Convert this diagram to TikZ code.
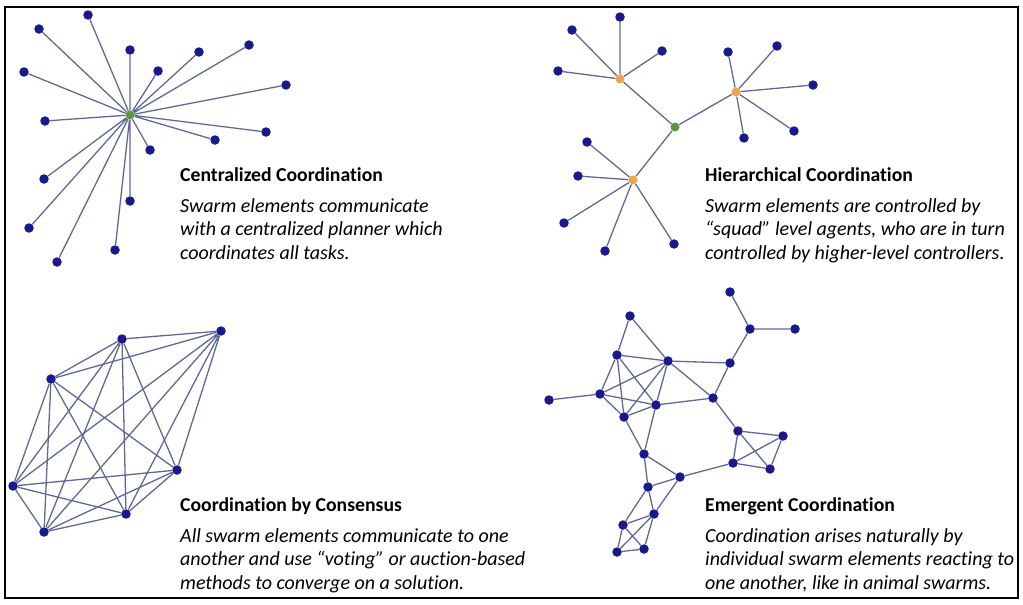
\documentclass[tikz,border=0pt]{standalone}
\usepackage{fontspec}
\setmainfont{Carlito}[Ligatures=NoCommon]
\usetikzlibrary{backgrounds}

\definecolor{dotblue}{RGB}{25,25,140}
\definecolor{linkgray}{RGB}{95,105,150}
\definecolor{hubgreen}{RGB}{95,150,60}
\definecolor{squadorange}{RGB}{240,165,70}

\tikzset{
  agent/.style={circle,fill=dotblue,inner sep=0pt,minimum size=9.5pt},
  hub/.style={circle,fill=hubgreen,inner sep=0pt,minimum size=9pt},
  squad/.style={circle,fill=squadorange,inner sep=0pt,minimum size=9pt},
  link/.style={draw=linkgray,line width=1.3pt},
  heading/.style={anchor=base west,inner sep=0pt,font=\bfseries\fontsize{19.7}{23.5}\selectfont},
  blurb/.style={anchor=north west,inner sep=0pt,align=left,font=\itshape\fontsize{20}{23.5}\selectfont}
}

\begin{document}
\begin{tikzpicture}[x=1pt,y=-1pt]
    \useasboundingbox (0,0) rectangle (1023,605);
    \draw[line width=1.5pt] (5,7) rectangle (1018,598);

    % Centralized coordination
    \node[hub] (c0) at (130,115) {};
    \node[agent] (c1) at (88,15) {};
    \node[agent] (c2) at (39,29) {};
    \node[agent] (c3) at (130,50) {};
    \node[agent] (c4) at (199,52) {};
    \node[agent] (c5) at (249,45) {};
    \node[agent] (c6) at (158,71) {};
    \node[agent] (c7) at (24,72) {};
    \node[agent] (c8) at (286,85) {};
    \node[agent] (c9) at (45,121) {};
    \node[agent] (c10) at (266,132) {};
    \node[agent] (c11) at (215,140) {};
    \node[agent] (c12) at (150,150) {};
    \node[agent] (c13) at (44,179) {};
    \node[agent] (c14) at (130,201) {};
    \node[agent] (c15) at (29,228) {};
    \node[agent] (c16) at (115,250) {};
    \node[agent] (c17) at (57,262) {};
    \begin{scope}[on background layer]
        \draw[link] (c0) -- (c1) (c0) -- (c2) (c0) -- (c3) (c0) -- (c4)
            (c0) -- (c5) (c0) -- (c6) (c0) -- (c7) (c0) -- (c8) (c0) -- (c9)
            (c0) -- (c10) (c0) -- (c11) (c0) -- (c12) (c0) -- (c13)
            (c0) -- (c14) (c0) -- (c15) (c0) -- (c16) (c0) -- (c17);
    \end{scope}
    \node[heading] (ctitle) at (180,181) {Centralized Coordination};
    \node[blurb] (ctext) at (180,198) {Swarm elements communicate\\with a centralized planner which\\coordinates all tasks.};

    % Hierarchical coordination
    \node[hub] (h0) at (675,127) {};
    \node[squad] (ha) at (620,79) {};
    \node[squad] (hb) at (736,92) {};
    \node[squad] (hc) at (633,180) {};
    \node[agent] (ha1) at (620,17) {};
    \node[agent] (ha2) at (572,30) {};
    \node[agent] (ha3) at (662,51) {};
    \node[agent] (ha4) at (558,71) {};
    \node[agent] (hb1) at (728,52) {};
    \node[agent] (hb2) at (777,46) {};
    \node[agent] (hb3) at (813,85) {};
    \node[agent] (hb4) at (794,131) {};
    \node[agent] (hb5) at (744,138) {};
    \node[agent] (hc1) at (587,142) {};
    \node[agent] (hc2) at (578,176) {};
    \node[agent] (hc3) at (564,223) {};
    \node[agent] (hc4) at (605,251) {};
    \node[agent] (hc5) at (674,244) {};
    \begin{scope}[on background layer]
        \draw[link] (h0) -- (ha) (h0) -- (hb) (h0) -- (hc);
        \draw[link] (ha) -- (ha1) (ha) -- (ha2) (ha) -- (ha3) (ha) -- (ha4);
        \draw[link] (hb) -- (hb1) (hb) -- (hb2) (hb) -- (hb3) (hb) -- (hb4) (hb) -- (hb5);
        \draw[link] (hc) -- (hc1) (hc) -- (hc2) (hc) -- (hc3) (hc) -- (hc4) (hc) -- (hc5);
    \end{scope}
    \node[heading] (htitle) at (705,181) {Hierarchical Coordination};
    \node[blurb] (htext) at (705,198) {Swarm elements are controlled by\\``squad'' level agents, who are in turn\\controlled by higher-level controllers.};

    % Coordination by consensus
    \node[agent] (k1) at (122,339) {};
    \node[agent] (k2) at (221,331) {};
    \node[agent] (k3) at (51,379) {};
    \node[agent] (k4) at (13,486) {};
    \node[agent] (k5) at (177,470) {};
    \node[agent] (k6) at (126,514) {};
    \node[agent] (k7) at (44,532) {};
    \begin{scope}[on background layer]
        \draw[link] (k1) -- (k2) (k1) -- (k3) (k1) -- (k4) (k1) -- (k5) (k1) -- (k6) (k1) -- (k7);
        \draw[link] (k2) -- (k3) (k2) -- (k4) (k2) -- (k5) (k2) -- (k6) (k2) -- (k7);
        \draw[link] (k3) -- (k4) (k3) -- (k5) (k3) -- (k6) (k3) -- (k7);
        \draw[link] (k4) -- (k5) (k4) -- (k6) (k4) -- (k7);
        \draw[link] (k5) -- (k6) (k5) -- (k7);
        \draw[link] (k6) -- (k7);
    \end{scope}
    \node[heading] (ktitle) at (180,511) {Coordination by Consensus};
    \node[blurb] (ktext) at (180,528) {All swarm elements communicate to one\\another and use ``voting'' or auction-based\\methods to converge on a solution.};

    % Emergent coordination
    \node[agent] (e1) at (730,292) {};
    \node[agent] (e2) at (750,329) {};
    \node[agent] (e3) at (795,329) {};
    \node[agent] (e4) at (630,316) {};
    \node[agent] (e5) at (617,355) {};
    \node[agent] (e6) at (668,361) {};
    \node[agent] (e7) at (730,363) {};
    \node[agent] (e8) at (549,400) {};
    \node[agent] (e9) at (600,394) {};
    \node[agent] (e10) at (656,405) {};
    \node[agent] (e11) at (713,398) {};
    \node[agent] (e12) at (624,417) {};
    \node[agent] (e13) at (738,431) {};
    \node[agent] (e14) at (783,436) {};
    \node[agent] (e15) at (644,454) {};
    \node[agent] (e16) at (733,463) {};
    \node[agent] (e17) at (770,469) {};
    \node[agent] (e18) at (680,477) {};
    \node[agent] (e19) at (648,487) {};
    \node[agent] (e20) at (654,514) {};
    \node[agent] (e21) at (623,525) {};
    \node[agent] (e22) at (617,552) {};
    \node[agent] (e23) at (644,549) {};
    \begin{scope}[on background layer]
        \draw[link] (e1) -- (e2) (e2) -- (e3) (e2) -- (e7) (e7) -- (e6) (e7) -- (e11);
        \draw[link] (e4) -- (e5) (e4) -- (e6) (e8) -- (e9);
        \draw[link] (e5) -- (e6) (e5) -- (e9) (e5) -- (e10) (e5) -- (e12)
            (e6) -- (e9) (e6) -- (e10) (e6) -- (e12)
            (e9) -- (e10) (e9) -- (e12) (e10) -- (e12);
        \draw[link] (e6) -- (e11) (e10) -- (e11) (e12) -- (e15) (e10) -- (e15) (e11) -- (e13);
        \draw[link] (e13) -- (e14) (e13) -- (e16) (e13) -- (e17)
            (e14) -- (e16) (e14) -- (e17) (e16) -- (e17);
        \draw[link] (e16) -- (e18) (e15) -- (e18) (e15) -- (e19) (e18) -- (e19)
            (e18) -- (e20) (e19) -- (e20) (e19) -- (e21);
        \draw[link] (e20) -- (e21) (e20) -- (e22) (e20) -- (e23)
            (e21) -- (e22) (e21) -- (e23) (e22) -- (e23);
    \end{scope}
    \node[heading] (etitle) at (705,511) {Emergent Coordination};
    \node[blurb] (etext) at (705,528) {Coordination arises naturally by\\individual swarm elements reacting to\\one another, like in animal swarms.};
\end{tikzpicture}
\end{document}
